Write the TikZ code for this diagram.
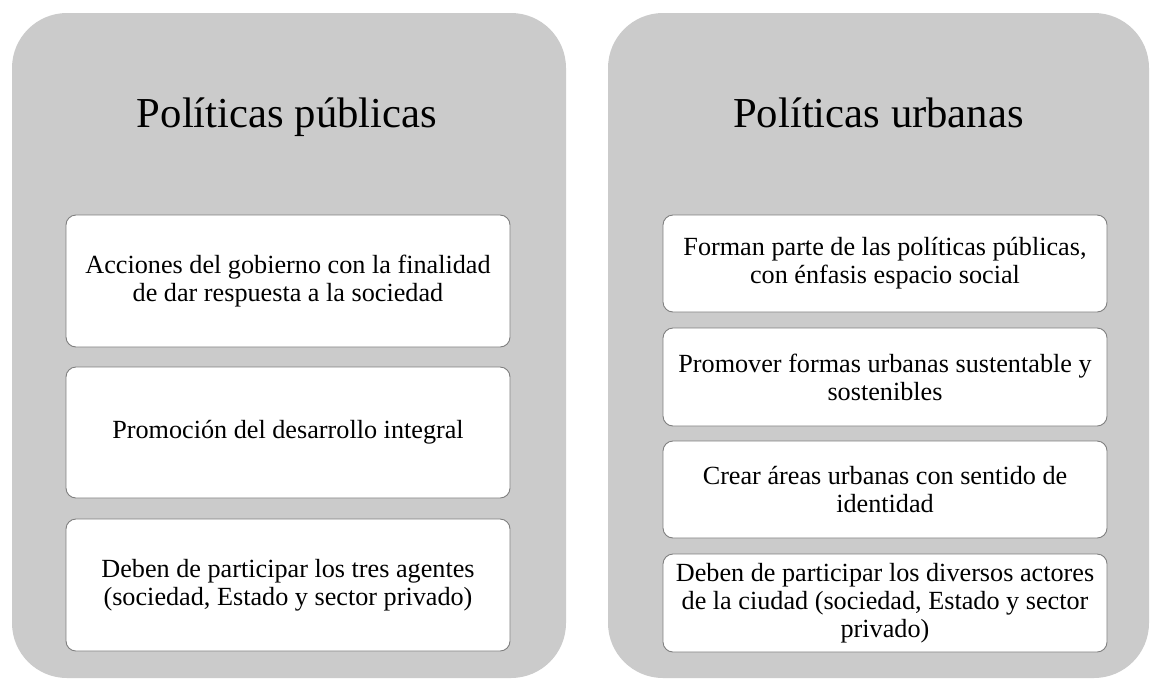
\documentclass[tikz,border=0pt]{standalone}
\usepackage{fontspec}
\setmainfont{Liberation Serif}
\definecolor{panelgray}{HTML}{CBCBCB}
\definecolor{edgegray}{HTML}{7F7F7F}
\begin{document}
\begin{tikzpicture}[x=1pt,y=-1pt,
  panel/.style={fill=panelgray, draw=none, rounded corners=55pt},
  titletext/.style={font=\fontsize{42.7}{50}\selectfont, anchor=base, inner sep=0pt},
  itembox/.style={draw=edgegray, line width=0.9pt, fill=white, rounded corners=10pt,
    align=center, font=\fontsize{26.2}{28}\selectfont, inner sep=0pt,
    minimum width=444pt},
]
\useasboundingbox (0,0) rectangle (1150,678);
% panels
\fill[panel] (12,13) rectangle (566,678);
\fill[panel] (608,13) rectangle (1149,678);
% titles
\node[titletext] (t1) at (287,127) {Políticas públicas};
\node[titletext] (t2) at (878.5,127) {Políticas urbanas};
% left items
\node[itembox, minimum height=132pt] (l1) at (288,281) {Acciones del gobierno con la finalidad\\de dar respuesta a la sociedad};
\node[itembox, minimum height=131pt] (l2) at (288,432.5) {Promoción del desarrollo integral};
\node[itembox, minimum height=132pt] (l3) at (288,585) {Deben de participar los tres agentes\\(sociedad, Estado y sector privado)};
% right items
\node[itembox, minimum height=97pt] (r1) at (885,263.5) {Forman parte de las políticas públicas,\\con énfasis espacio social};
\node[itembox, minimum height=98pt] (r2) at (885,377) {Promover formas urbanas sustentable y\\sostenibles};
\node[itembox, minimum height=97pt] (r3) at (885,489.5) {Crear áreas urbanas con sentido de\\identidad};
\node[itembox, minimum height=98pt] (r4) at (885,603) {Deben de participar los diversos actores\\de la ciudad (sociedad, Estado y sector\\privado)};
\end{tikzpicture}
\end{document}
